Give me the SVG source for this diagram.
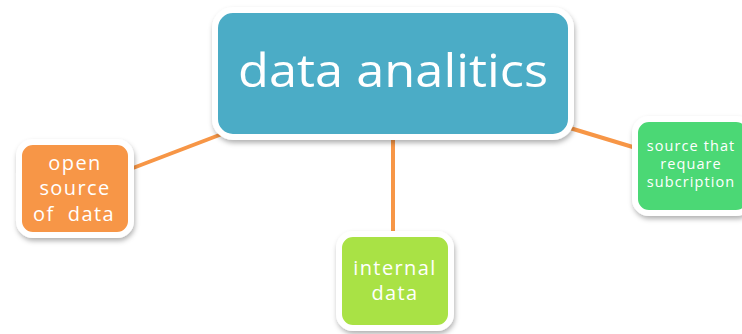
<svg xmlns="http://www.w3.org/2000/svg" width="742" height="334" viewBox="0 0 742 334">
<style>
.box{stroke:#fff;stroke-width:6;filter:url(#sh)}
.lbl{font-family:"Open Sans","Liberation Sans",sans-serif;fill:#fff;text-anchor:middle}
.mid{font-size:20px;letter-spacing:1.4px}
.sm{font-size:14.5px;letter-spacing:1.1px}
.conn{stroke:#F79646;stroke-width:4;fill:none}
</style>
<defs>
<filter id="sh" x="-20%" y="-20%" width="140%" height="150%">
<feDropShadow dx="1" dy="3" stdDeviation="2.5" flood-color="#000" flood-opacity="0.3"/>
</filter>
</defs>
<rect width="742" height="334" fill="#fff"/>
<g id="connectors">
<line class="conn" x1="133" y1="168" x2="222" y2="134"/>
<line class="conn" x1="393" y1="136" x2="393" y2="234"/>
<line class="conn" x1="570" y1="128" x2="636" y2="148"/>
</g>
<g id="node-center">
<rect class="box" x="215" y="10" width="356" height="127" rx="18" fill="#4BACC6"/>
<text class="lbl" x="393" y="87" font-size="46" textLength="310" lengthAdjust="spacingAndGlyphs">data analitics</text>
</g>
<g id="node-open">
<rect class="box" x="19" y="142" width="112" height="93" rx="14" fill="#F79646"/>
<text class="lbl mid" x="75" y="170">open</text>
<text class="lbl mid" x="75" y="195">source</text>
<text class="lbl mid" x="74" y="221" xml:space="preserve">of  data</text>
</g>
<g id="node-internal">
<rect class="box" x="339" y="234" width="112" height="94" rx="14" fill="#A9E244"/>
<text class="lbl mid" x="395" y="275">internal</text>
<text class="lbl mid" x="395" y="300">data</text>
</g>
<g id="node-subscription">
<rect class="box" x="635" y="119" width="115" height="94" rx="14" fill="#4CD874"/>
<text class="lbl sm" x="691" y="151">source that</text>
<text class="lbl sm" x="691" y="169">requare</text>
<text class="lbl sm" x="691" y="187">subcription</text>
</g>
</svg>
